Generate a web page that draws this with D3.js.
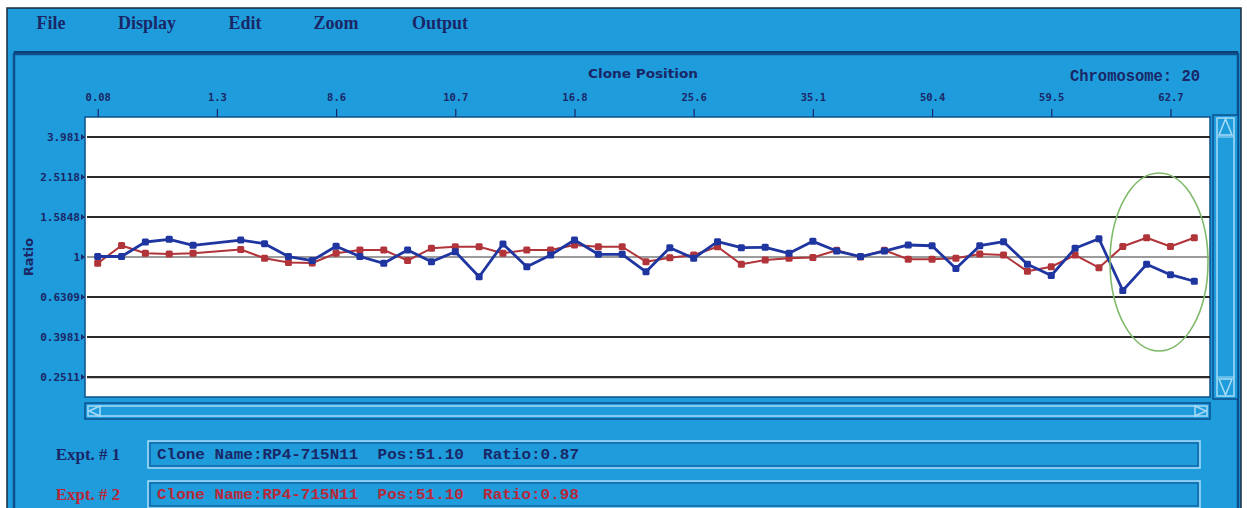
<!DOCTYPE html>
<html><head><meta charset="utf-8">
<script src="https://cdn.jsdelivr.net/npm/d3@7"></script>
<style>
html,body{margin:0;padding:0;background:#fff;}
svg{display:block;}
</style></head>
<body>
<svg id="c" width="1247" height="508"></svg>
<script>
// ---- data ----
const cloneIndex = d3.range(47);
// Expt #1 (blue) ratios, null = no clone shown
const expt1 = [1.00,1.00,1.182,1.219,1.138,null,1.209,1.159,1.00,0.955,
  1.126,1.00,0.925,1.078,0.942,1.057,0.792,1.155,0.889,1.017,
  1.209,1.026,1.026,0.839,1.107,0.980,1.186,1.107,1.112,1.038,
  1.191,1.065,1.00,1.065,1.142,1.132,0.87,1.132,1.186,0.914,
  0.804,1.099,1.227,0.676,0.914,0.811,0.752];
// Expt #2 (red) ratios
const expt2 = [0.925,1.135,1.038,1.029,1.038,null,1.084,0.980,0.933,0.928,
  1.038,1.078,1.078,0.955,1.099,1.119,1.119,1.038,1.078,1.078,
  1.142,1.119,1.119,0.942,0.986,1.017,1.119,0.914,0.960,0.980,
  0.989,1.074,0.994,1.074,0.969,0.969,0.98,1.029,1.017,0.843,
  0.889,1.017,0.879,1.122,1.242,1.122,1.242];
const xTickIndex = [0,5,10,15,20,25,30,35,40,45];
const xTickLabels = ["0.08","1.3","8.6","10.7","16.8","25.6","35.1","50.4","59.5","62.7"];
const yTickValues = [3.981,2.5118,1.5848,1,0.6309,0.3981,0.2511];
const yTickLabels = ["3.981","2.5118","1.5848","1","0.6309","0.3981","0.2511"];
const menuItems = ["File","Display","Edit","Zoom","Output"];
const exptLabels = ["Expt. # 1","Expt. # 2"];
const exptInfo = ["Clone Name:RP4-715N11  Pos:51.10  Ratio:0.87",
                  "Clone Name:RP4-715N11  Pos:51.10  Ratio:0.98"];

// ---- styles ----
const BLUE_BG = "#1f9cdc", DARK = "#0c4f8c", NAVY = "#1a2766", LIGHT = "#a9dcf6";
const C1 = "#1f35a0", C2 = "#b0343a";

const svg = d3.select("#c");
// window
svg.append("rect").attr("x",7).attr("y",8).attr("width",1234).attr("height",510)
  .attr("fill",BLUE_BG).attr("stroke","#1b2b40").attr("stroke-width",1.5);
// menu separator / panel
svg.append("rect").attr("x",14).attr("y",54).attr("width",1224).attr("height",470)
  .attr("fill",BLUE_BG).attr("stroke",DARK).attr("stroke-width",2.5);
svg.append("line").attr("x1",14).attr("x2",1238).attr("y1",52).attr("y2",52)
  .attr("stroke","#0a3f75").attr("stroke-width",2);

// menu
const menuX = [51,147,245,336,440];
svg.selectAll("text.menu").data(menuItems).join("text").attr("class","menu")
  .attr("x",(d,i)=>menuX[i]).attr("y",29).attr("text-anchor","middle")
  .attr("font-family","Liberation Serif, serif").attr("font-weight","bold")
  .attr("font-size",18).attr("fill",NAVY).text(d=>d);

// plot geometry
const L=85, R=1210, T=117, B=397;
const x = d3.scaleLinear().domain([0,46]).range([97.7,1194.3]);
const y = d3.scaleLog().domain([0.1984,4.984]).range([B,T]);

svg.append("rect").attr("x",L).attr("y",T).attr("width",R-L).attr("height",B-T)
  .attr("fill","#fff").attr("stroke",DARK).attr("stroke-width",1.5);

// titles
svg.append("text").attr("x",643).attr("y",78).attr("text-anchor","middle")
  .attr("font-family","DejaVu Sans, sans-serif").attr("font-weight","bold")
  .attr("font-size",12).attr("fill",NAVY).attr("textLength",110)
  .attr("lengthAdjust","spacingAndGlyphs").text("Clone Position");
svg.append("text").attr("x",1200).attr("y",81).attr("text-anchor","end")
  .attr("font-family","Liberation Mono, monospace").attr("font-weight","bold")
  .attr("font-size",16).attr("fill",NAVY).attr("textLength",130)
  .attr("lengthAdjust","spacingAndGlyphs").text("Chromosome: 20");

// top axis
const gx = svg.append("g").attr("transform",`translate(0,${T})`)
  .call(d3.axisTop(x).tickValues(xTickIndex).tickSize(8).tickPadding(8)
    .tickFormat((d,i)=>xTickLabels[i]));
gx.select(".domain").remove();
gx.selectAll("line").attr("stroke",NAVY).attr("stroke-width",1.2);
gx.selectAll("text").attr("font-family","DejaVu Sans Mono, monospace")
  .attr("font-weight","bold").attr("font-size",10.5).attr("fill",NAVY);

// grid + left labels
const gy = svg.append("g").attr("transform",`translate(${L},0)`)
  .call(d3.axisLeft(y).tickValues(yTickValues).tickSize(-(R-L)).tickPadding(5)
    .tickFormat((d,i)=>yTickLabels[i]));
gy.select(".domain").remove();
gy.selectAll(".tick line").attr("stroke",d=>d===1?"#7a7a7a":"#2b2b2b")
  .attr("stroke-width",d=>d===1?1.3:2.2).attr("x1",2);
gy.selectAll(".tick").append("path").attr("d","M-4,-3L0,0L-4,3Z").attr("fill",NAVY);
gy.selectAll("text").attr("font-family","DejaVu Sans Mono, monospace")
  .attr("font-weight","bold").attr("font-size",11).attr("fill",NAVY);

svg.append("text").attr("transform","translate(33,257) rotate(-90)")
  .attr("text-anchor","middle").attr("font-family","DejaVu Sans, sans-serif")
  .attr("font-weight","bold").attr("font-size",13).attr("fill",NAVY).text("Ratio");

// series
function drawSeries(vals, color, w){
  const pts = cloneIndex.map(i=>({i, v:vals[i]})).filter(d=>d.v!=null);
  const line = d3.line().x(d=>x(d.i)).y(d=>y(d.v));
  svg.append("path").datum(pts).attr("d",line).attr("fill","none")
    .attr("stroke",color).attr("stroke-width",w).attr("stroke-linejoin","round");
  svg.selectAll(null).data(pts).join("rect")
    .attr("x",d=>x(d.i)-3.5).attr("y",d=>y(d.v)-3.5).attr("width",7).attr("height",7)
    .attr("rx",1.5).attr("fill",color);
}
drawSeries(expt2, C2, 2);
drawSeries(expt1, C1, 2.8);

// highlight ellipse
svg.append("ellipse").attr("cx",1159).attr("cy",262).attr("rx",49).attr("ry",89)
  .attr("fill","none").attr("stroke","#7fba6a").attr("stroke-width",1.6);

// vertical scrollbar
const vs = svg.append("g");
vs.append("rect").attr("x",1213).attr("y",115).attr("width",25).attr("height",284)
  .attr("fill",BLUE_BG).attr("stroke",DARK).attr("stroke-width",1.5);
vs.append("rect").attr("x",1217).attr("y",118).attr("width",17).attr("height",278)
  .attr("fill","none").attr("stroke",LIGHT).attr("stroke-width",1.5);
vs.append("path").attr("d","M1219,135L1225.5,119L1232,135Z").attr("fill","none")
  .attr("stroke",LIGHT).attr("stroke-width",1.5);
vs.append("path").attr("d","M1219,379L1225.5,395L1232,379Z").attr("fill","none")
  .attr("stroke",LIGHT).attr("stroke-width",1.5);
vs.append("line").attr("x1",1217).attr("x2",1234).attr("y1",137).attr("y2",137).attr("stroke",LIGHT);
vs.append("line").attr("x1",1217).attr("x2",1234).attr("y1",377).attr("y2",377).attr("stroke",LIGHT);

// horizontal scrollbar
const hs = svg.append("g");
hs.append("rect").attr("x",85).attr("y",403).attr("width",1125).attr("height",16)
  .attr("fill",BLUE_BG).attr("stroke",DARK).attr("stroke-width",1.5);
hs.append("rect").attr("x",88).attr("y",406).attr("width",1119).attr("height",10)
  .attr("fill","none").attr("stroke",LIGHT).attr("stroke-width",1.5);
hs.append("path").attr("d","M100,406L89,411L100,416Z").attr("fill","none")
  .attr("stroke",LIGHT).attr("stroke-width",1.5);
hs.append("path").attr("d","M1195,406L1206,411L1195,416Z").attr("fill","none")
  .attr("stroke",LIGHT).attr("stroke-width",1.5);

// info boxes
const boxY = [441,481], boxColor = [NAVY, "#b8283a"];
exptLabels.forEach((lab,i)=>{
  svg.append("text").attr("x",88).attr("y",boxY[i]+19).attr("text-anchor","middle")
    .attr("font-family","Liberation Serif, serif").attr("font-weight","bold")
    .attr("font-size",17).attr("fill",boxColor[i]).text(lab);
  svg.append("rect").attr("x",148).attr("y",boxY[i]).attr("width",1052).attr("height",27)
    .attr("fill",BLUE_BG).attr("stroke",LIGHT).attr("stroke-width",1.5);
  svg.append("rect").attr("x",150).attr("y",boxY[i]+2).attr("width",1048).attr("height",23)
    .attr("fill","none").attr("stroke",DARK).attr("stroke-width",1);
  svg.append("text").attr("x",157).attr("y",boxY[i]+18).attr("xml:space","preserve")
    .style("white-space","pre")
    .attr("font-family","Liberation Mono, monospace").attr("font-weight","bold")
    .attr("font-size",15).attr("fill",boxColor[i])
    .attr("textLength",422).attr("lengthAdjust","spacingAndGlyphs").text(exptInfo[i]);
});
</script>
</body></html>
